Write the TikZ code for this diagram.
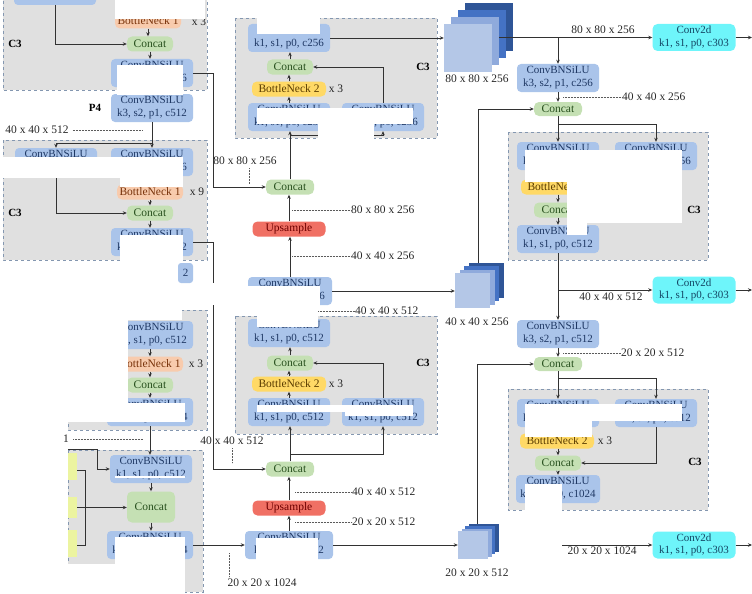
\documentclass[tikz,border=0pt]{standalone}
\usepackage{fontspec}
\setmainfont{Liberation Serif}
\usetikzlibrary{arrows.meta}
\definecolor{boxgray}{RGB}{224,224,224}
\definecolor{dashc}{RGB}{132,151,176}
\definecolor{convb}{RGB}{170,196,234}
\definecolor{convt}{RGB}{31,56,100}
\definecolor{catg}{RGB}{197,224,180}
\definecolor{catt}{RGB}{40,80,30}
\definecolor{bnor}{RGB}{248,203,173}
\definecolor{bnort}{RGB}{120,50,10}
\definecolor{bnye}{RGB}{255,217,102}
\definecolor{bnyet}{RGB}{90,60,0}
\definecolor{upr}{RGB}{240,112,100}
\definecolor{uprt}{RGB}{110,0,0}
\definecolor{cyanb}{RGB}{110,245,250}
\definecolor{cyant}{RGB}{20,70,100}
\definecolor{linec}{RGB}{50,50,50}
\definecolor{poolY}{RGB}{236,244,160}
\definecolor{cubeA}{RGB}{47,85,151}
\definecolor{cubeB}{RGB}{68,114,196}
\definecolor{cubeC}{RGB}{143,170,220}
\definecolor{cubeD}{RGB}{180,199,231}
\tikzset{
 conv/.style={fill=convb, rounded corners=4pt, text=convt, minimum width=82pt, minimum height=28pt, inner sep=0pt, align=center, font=\fontsize{11}{13}\selectfont},
 cat/.style={fill=catg, rounded corners=5pt, text=catt, minimum width=46pt, minimum height=15pt, inner sep=0pt, font=\fontsize{11.5}{12}\selectfont},
 bnone/.style={fill=bnor, rounded corners=5pt, text=bnort, minimum width=66pt, minimum height=15pt, inner sep=0pt, font=\fontsize{11.5}{12}\selectfont},
 bntwo/.style={fill=bnye, rounded corners=5pt, text=bnyet, minimum width=74pt, minimum height=15pt, inner sep=0pt, font=\fontsize{11.5}{12}\selectfont},
 ups/.style={fill=upr, rounded corners=5pt, text=uprt, minimum width=73pt, minimum height=15pt, inner sep=0pt, font=\fontsize{11.5}{12}\selectfont},
 cconv/.style={fill=cyanb, rounded corners=5pt, text=cyant, minimum width=83pt, minimum height=27pt, inner sep=0pt, align=center, font=\fontsize{11}{12.5}\selectfont},
 cthree/.style={fill=boxgray, draw=dashc, dashed, line width=0.6pt},
 whitemask/.style={fill=white, draw=none},
 arr/.style={draw=linec, line width=0.75pt, -{Stealth[length=4pt,width=3.5pt]}},
 wire/.style={draw=linec, line width=0.75pt},
 dimline/.style={draw=linec!80, line width=0.6pt, dash pattern=on 0.6pt off 0.9pt},
 dimtxt/.style={font=\fontsize{11.5}{12}\selectfont, text=black!85, inner sep=0pt},
 lbl/.style={font=\bfseries\fontsize{11}{12}\selectfont, inner sep=0pt},
 times/.style={font=\fontsize{11.5}{12}\selectfont, inner sep=0pt, text=black!85},
 poolbox/.style={fill=poolY, minimum width=9pt, inner sep=0pt, draw=none},
 cubesq/.style={inner sep=0pt, draw=none},
}
\begin{document}
\begin{tikzpicture}[x=1pt,y=-1pt]
\useasboundingbox (0,0) rectangle (752,594);

% ---------- C3 group boxes ----------
\draw[cthree] (3,-5) rectangle (207,90);
\draw[cthree] (3,140) rectangle (207,260);
\draw[cthree] (68,310) rectangle (207,430);
\draw[cthree] (68,450) rectangle (203,592);
\draw[cthree] (235,18) rectangle (437,138);
\draw[cthree] (235,316) rectangle (437,434);
\draw[cthree] (508,132) rectangle (708,260);
\draw[cthree] (508,389) rectangle (708,510);

% ---------- Box A ----------
\node[conv, minimum height=30pt] (a0) at (55,-10) {};
\node[bnone] (abn) at (148,21) {BottleNeck 1};
\node[times] (ax) at (199,22) {x 3};
\node[cat] (acat) at (150,44) {Concat};
\node[conv] (aout) at (152,73) {ConvBNSiLU\\k1, s1, p0, c256};
\node[lbl] (ac3) at (15,44) {C3};
\node[conv] (p4) at (152,108) {ConvBNSiLU\\k3, s2, p1, c512};
\node[lbl] (p4l) at (95,108) {P4};
\node[dimtxt] (dA) at (37,130) {40 x 40 x 512};
\draw[dimline] (dA.east) ++(4,0) -- (143,130);
\draw[arr] (a0.south) |- (acat.west);
\draw[arr] (abn.south) -- (abn.south |- acat.north);
\draw[arr] (acat.south) -- (acat.south |- aout.north);

% ---------- Box B ----------
\node[conv] (b1) at (56,162) {ConvBNSiLU\\k1, s1, p0, c256};
\node[conv] (b2) at (152,162) {ConvBNSiLU\\k1, s1, p0, c256};
\node[bnone] (bbn) at (150,192) {BottleNeck 1};
\node[times] (bx) at (197,192) {x 9};
\node[cat] (bcat) at (150,213) {Concat};
\node[conv] (bout) at (152,242) {ConvBNSiLU\\k1, s1, p0, c512};
\node[lbl] (bc3) at (15,213) {C3};
\coordinate (bsplit) at (152,143);
\draw[wire] (p4.south) -- (bsplit);
\draw[arr] (bsplit) -- (b2.north);
\draw[arr] (bsplit) -| (b1.north);
\draw[arr] (b1.south) |- (bcat.west);
\draw[arr] (bbn.south) -- (bcat.north);
\draw[arr] (bcat.south) -- (bcat.south |- bout.north);

% ---------- Box C ----------
\node[conv] (c1) at (152,335) {ConvBNSiLU\\k1, s1, p0, c512};
\node[bnone] (cbn) at (150,364) {BottleNeck 1};
\node[times] (cx) at (196,364) {x 3};
\node[cat] (ccat) at (150,385) {Concat};
\node[conv, minimum width=86pt] (cout) at (150,412) {ConvBNSiLU\\k1, s1, p0, c1024};
\draw[arr] (c1.south -| cbn.north) -- (cbn.north);
\draw[arr] (cbn.south) -- (ccat.north);
\draw[arr] (ccat.south) -- (cout.north);
\node[dimtxt] (dC) at (66,439) {1};
\draw[dimline] (dC.east) ++(4,0) -- (143,439);

% ---------- Box D (SPPF) ----------
\node[conv] (d1c) at (151,469) {ConvBNSiLU\\k1, s1, p0, c512};
\node[cat, minimum width=48pt, minimum height=31pt] (dcat) at (151,507) {Concat};
\node[conv, minimum width=86pt] (d2c) at (150,545) {ConvBNSiLU\\k1, s1, p0, c1024};
\node[poolbox, minimum height=27pt] (mp1) at (72.5,466.5) {};
\node[poolbox, minimum height=21pt] (mp2) at (72.5,507.5) {};
\node[poolbox, minimum height=27pt] (mp3) at (72.5,543.5) {};
\draw[wire] (mp1.east |- 0,470) -- (85,470) -- (85,545) -- (mp3.east |- 0,545);
\draw[arr] (mp2.east) -- (dcat.west |- mp2.east);
\coordinate (dIn) at (68,449);
\draw[arr] (dIn) -- (97,449) -- (97,469) -- (d1c.west);
\draw[arr] (cout.south) -- (cout.south |- d1c.north);
\draw[arr] (d1c.south) -- (dcat.north);
\draw[arr] (dcat.south) -- (dcat.south |- d2c.north);

% ---------- Middle column ----------
\node[conv] (etop) at (289,38) {ConvBNSiLU\\k1, s1, p0, c256};
\node[cat] (ecat) at (290,67) {Concat};
\node[bntwo] (ebn) at (289,89) {BottleNeck 2};
\node[times] (ex) at (336,89) {x 3};
\node[conv] (ebl) at (289,117) {ConvBNSiLU\\k1, s1, p0, c256};
\node[conv] (ebr) at (383,117) {ConvBNSiLU\\k1, s1, p0, c256};
\node[lbl] (ec3) at (423,67) {C3};
\draw[arr] (ebl.north) -- (ebn.south);
\draw[arr] (ebn.north) -- (ebn.north |- ecat.south);
\draw[arr] (ecat.north) -- (ecat.north |- etop.south);
\draw[arr] (ebr.north) |- (ecat.east);

\node[cat, minimum width=48pt] (m1) at (290,187) {Concat};
\node[ups] (u1) at (289,229) {Upsample};
\node[conv, minimum width=84pt] (m2) at (290,291) {ConvBNSiLU\\k1, s1, p0, c256};
\node[conv] (ftop) at (289,333) {ConvBNSiLU\\k1, s1, p0, c512};
\node[cat] (fcat) at (290,363) {Concat};
\node[bntwo] (fbn) at (289,384) {BottleNeck 2};
\node[times] (fx) at (336,384) {x 3};
\node[conv] (fbl) at (289,412) {ConvBNSiLU\\k1, s1, p0, c512};
\node[conv] (fbr) at (383,412) {ConvBNSiLU\\k1, s1, p0, c512};
\node[lbl] (fc3) at (423,363) {C3};
\node[cat, minimum width=48pt] (m3) at (290,469) {Concat};
\node[ups] (u2) at (289,508) {Upsample};
\node[conv, minimum width=88pt] (m5) at (289,545) {ConvBNSiLU\\k1, s1, p0, c512};

\draw[arr] (m1.north) -- (m1.north |- ebl.south);
\coordinate (esplit) at (290,135);
\draw[arr] (esplit) -| (ebr.south);
\draw[arr] (u1.north) -- (u1.north |- m1.south);
\draw[arr] (m2.north) -- (m2.north |- u1.south);
\draw[arr] (ftop.north) -- (ftop.north |- m2.south);
\draw[arr] (fbl.north) -- (fbn.south);
\draw[arr] (fbn.north) -- (fbn.north |- fcat.south);
\draw[arr] (fcat.north) -- (fcat.north |- ftop.south);
\draw[arr] (fbr.north) |- (fcat.east);
\draw[arr] (m3.north) -- (m3.north |- fbl.south);
\coordinate (fsplit) at (290,454);
\draw[arr] (fsplit) -| (fbr.south);
\draw[arr] (u2.north) -- (u2.north |- m3.south);
\draw[arr] (m5.north) -- (m5.north |- u2.south);

\draw[arr] (aout.east) -- ++(20,0) |- (m1.west);
\draw[arr] (bout.east) -- ++(20,0) |- (m3.west);
\draw[arr] (d2c.east) -- (m5.west);

% dims middle
\node[dimtxt] (dM1) at (245,161) {80 x 80 x 256};
\draw[dimline] (249,168) -- (249,184);
\node[dimtxt, anchor=west] (dM2) at (351,210) {80 x 80 x 256};
\draw[dimline] (292,210) -- (dM2.west);
\node[dimtxt, anchor=west] (dM3) at (351,256) {40 x 40 x 256};
\draw[dimline] (292,256) -- (dM3.west);
\node[dimtxt, anchor=west] (dM4) at (355,311) {40 x 40 x 512};
\draw[dimline] (318,311) -- (dM4.west);
\node[dimtxt] (dM5) at (232,441) {40 x 40 x 512};
\draw[dimline] (232,448) -- (232,463);
\node[dimtxt, anchor=west] (dM6) at (352,492) {40 x 40 x 512};
\draw[dimline] (295,492) -- (dM6.west);
\node[dimtxt, anchor=west] (dM7) at (352,522) {20 x 20 x 512};
\draw[dimline] (295,522) -- (dM7.west);
\node[dimtxt] (dM8) at (262,583) {20 x 20 x 1024};
\draw[dimline] (229,553) -- (229,577);

% ---------- Cubes ----------
\node[cubesq, fill=cubeA, minimum size=48pt] (cube1d) at (489,27) {};
\node[cubesq, fill=cubeB, minimum size=48pt] (cube1c) at (482,34) {};
\node[cubesq, fill=cubeC, minimum size=48pt] (cube1b) at (475,41) {};
\node[cubesq, fill=cubeD, minimum size=48pt] (cube1a) at (468,48) {};
\node[dimtxt] (cube1l) at (477,79) {80 x 80 x 256};

\node[cubesq, fill=cubeA, minimum size=35pt] (cube2d) at (486.6,280.6) {};
\node[cubesq, fill=cubeB, minimum size=35pt] (cube2c) at (481.9,283.9) {};
\node[cubesq, fill=cubeC, minimum size=35pt] (cube2b) at (477.2,287.2) {};
\node[cubesq, fill=cubeD, minimum size=35pt] (cube2a) at (472.5,290.5) {};
\node[dimtxt] (cube2l) at (477,322) {40 x 40 x 256};

\node[cubesq, fill=cubeA, minimum width=30pt, minimum height=28pt] (cube3d) at (483.5,537.5) {};
\node[cubesq, fill=cubeB, minimum width=30pt, minimum height=28pt] (cube3c) at (480,540) {};
\node[cubesq, fill=cubeC, minimum width=30pt, minimum height=28pt] (cube3b) at (476.5,542.5) {};
\node[cubesq, fill=cubeD, minimum width=30pt, minimum height=28pt] (cube3a) at (473,545) {};
\node[dimtxt] (cube3l) at (477,573) {20 x 20 x 512};

\draw[arr] (etop.east) -- (etop.east -| cube1a.west);
\draw[arr] (m2.east) -- (m2.east -| cube2a.west);
\draw[arr] (m5.east) -- (m5.east -| cube3a.west);

% ---------- Right column ----------
\node[cconv] (o1) at (694,37.5) {Conv2d\\k1, s1, p0, c303};
\node[cconv] (o2) at (694,290) {Conv2d\\k1, s1, p0, c303};
\node[cconv] (o3) at (694,545) {Conv2d\\k1, s1, p0, c303};
\node[conv] (r1) at (558,78) {ConvBNSiLU\\k3, s2, p1, c256};
\node[cat, minimum width=48pt, minimum height=14pt] (rc1) at (558,109) {Concat};
\node[conv] (gl) at (558,156) {ConvBNSiLU\\k1, s1, p0, c256};
\node[conv] (gr) at (656,156) {ConvBNSiLU\\k1, s1, p0, c256};
\node[bntwo] (gbn) at (558,187) {BottleNeck 2};
\node[cat, minimum width=48pt] (gcat) at (558,210) {Concat};
\node[conv] (gb) at (558,239) {ConvBNSiLU\\k1, s1, p0, c512};
\node[lbl] (gc3) at (694,210) {C3};
\node[conv] (r2) at (558,334) {ConvBNSiLU\\k3, s2, p1, c512};
\node[cat, minimum width=48pt, minimum height=14pt] (rc2) at (558,364) {Concat};
\node[conv] (hl) at (558,413) {ConvBNSiLU\\k1, s1, p0, c512};
\node[conv] (hr) at (656,413) {ConvBNSiLU\\k1, s1, p0, c512};
\node[bntwo] (hbn) at (557,441) {BottleNeck 2};
\node[times] (hx) at (605,441) {x 3};
\node[cat] (hcat) at (558,463) {Concat};
\node[conv, minimum width=84pt] (hb) at (558,489) {ConvBNSiLU\\k1, s1, p0, c1024};
\node[lbl] (hc3) at (695,462) {C3};

\coordinate (o1out) at (752,37.5);
\coordinate (o2out) at (752,290);
\coordinate (o3out) at (752,545);
\draw[arr] (o1.west -| cube1b.east) -- (o1.west);
\node[dimtxt] (dR1) at (603,30) {80 x 80 x 256};
\draw[arr] (o1.east) -- (o1out);
\coordinate (rsplit) at (558,37.5);
\draw[arr] (rsplit) -- (r1.north);
\draw[arr] (r1.south) -- (rc1.north);
\node[dimtxt, anchor=west] (dR2) at (622,97) {40 x 40 x 256};
\draw[dimline] (563,97) -- (dR2.west);
\coordinate (c2top) at (478,263);
\draw[arr] (c2top) |- (rc1.west);
\coordinate (gsplit) at (558,124);
\draw[wire] (rc1.south) -- (gsplit);
\draw[arr] (gsplit) -- (gl.north);
\draw[arr] (gsplit) -| (gr.north);
\draw[arr] (gl.south) -- (gbn.north);
\draw[arr] (gbn.south) -- (gcat.north);
\draw[arr] (gcat.south) -- (gb.north);
\draw[arr] (gr.south) |- (gcat.east);
\coordinate (osplit) at (558,290);
\draw[wire] (gb.south) -- (osplit);
\draw[arr] (osplit) -- (r2.north);
\draw[arr] (osplit) -- (o2.west);
\node[dimtxt, anchor=north] (dR3) at (611,293) {40 x 40 x 512};
\draw[arr] (o2.east) -- (o2out);
\draw[arr] (r2.south) -- (rc2.north);
\node[dimtxt, anchor=west] (dR4) at (621,353) {20 x 20 x 512};
\draw[dimline] (563,353) -- (dR4.west);
\coordinate (c3top) at (477,523.5);
\draw[arr] (c3top) |- (rc2.west);
\coordinate (hsplit) at (558,378);
\draw[wire] (rc2.south) -- (hsplit);
\draw[arr] (hsplit) -- (hl.north);
\draw[arr] (hsplit) -| (hr.north);
\draw[arr] (hl.south) -- (hl.south |- hbn.north);
\draw[arr] (hbn.south -| hcat.north) -- (hcat.north);
\draw[arr] (hcat.south) -- (hb.north);
\draw[arr] (hr.south) |- (hcat.east);
\coordinate (hIn) at (562,545);
\draw[arr] (hIn) -- (o3.west);
\node[dimtxt, anchor=north] (dR5) at (602,547) {20 x 20 x 1024};
\draw[arr] (o3.east) -- (o3out);

% ---------- white patches ----------
\fill[whitemask] (115,-5) rectangle (205,19);
\fill[whitemask] (117,65) rectangle (183,94.5);
\fill[whitemask] (0,157) rectangle (183,178);
\fill[whitemask] (120,178) rectangle (183,186.5);
\fill[whitemask] (120,235) rectangle (183,262);
\fill[whitemask] (205,283) rectangle (222,305);
\fill[whitemask] (0,300) rectangle (182,320);
\fill[whitemask] (0,320) rectangle (128,403);
\fill[whitemask] (0,403) rectangle (185,422);
\fill[whitemask] (115,476.2) rectangle (185,477.8);
\fill[whitemask] (115,537) rectangle (185,594);
\fill[whitemask] (0,563.5) rectangle (115,594);
\fill[whitemask] (257,15) rectangle (320,34);
\fill[whitemask] (257,108) rectangle (413,124);
\fill[whitemask] (318,124) rectangle (374,142);
\fill[whitemask] (238,286) rectangle (320,309);
\fill[whitemask] (257,309) rectangle (318,327);
\fill[whitemask] (257,405) rectangle (413,411.5);
\fill[whitemask] (345,411.5) rectangle (413,416);
\fill[whitemask] (256,538) rectangle (318,562);
\fill[whitemask] (525,150) rectangle (682,182);
\fill[whitemask] (567,182) rectangle (682,223);
\fill[whitemask] (567,223) rectangle (587,235);
\fill[whitemask] (525,404) rectangle (682,421);
\fill[whitemask] (525,421) rectangle (592,437);
\fill[whitemask] (525,484) rectangle (562,512);

% partial block left visible
\node[fill=convb, rounded corners=3pt, minimum width=15pt, minimum height=20pt, inner sep=0pt, text=convt, font=\fontsize{11}{12}\selectfont] (p5) at (185.5,273) {\raisebox{-4pt}{2}};
\end{tikzpicture}
\end{document}
